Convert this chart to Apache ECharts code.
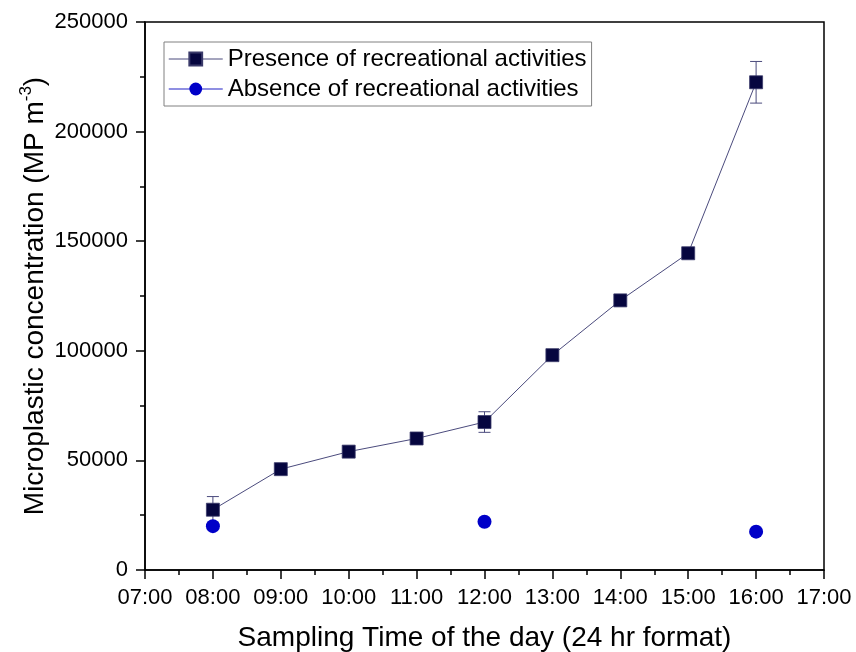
<!DOCTYPE html>
<html>
<head>
<meta charset="utf-8">
<script src="https://cdn.jsdelivr.net/npm/echarts@6/dist/echarts.min.js"></script>
<style>
html,body{margin:0;padding:0;background:#fff;}
#chart{width:856px;height:652px;}
</style>
</head>
<body>
<div id="chart"></div>
<script>
// Data (hours of day)
var presenceHours = [8, 9, 10, 11, 12, 13, 14, 15, 16];
var presenceValues = [27500, 46000, 54000, 60000, 67500, 98000, 123000, 144500, 222500];
var presenceErrors = [6000, 0, 0, 0, 4700, 0, 0, 0, 9500];
var absenceHours = [8, 12, 16];
var absenceValues = [20000, 22000, 17500];
var xTickLabels = ['07:00','08:00','09:00','10:00','11:00','12:00','13:00','14:00','15:00','16:00','17:00'];
var seriesNames = ['Presence of recreational activities', 'Absence of recreational activities'];

var FONT = '"Liberation Sans", Arial, sans-serif';
var chart = echarts.init(document.getElementById('chart'), null, {renderer: 'canvas'});

var presenceData = presenceHours.map(function (h, i) { return [h, presenceValues[i]]; });
var absenceData = absenceHours.map(function (h, i) { return [h, absenceValues[i]]; });
var errData = presenceHours.map(function (h, i) {
  return [h, presenceValues[i] - presenceErrors[i], presenceValues[i] + presenceErrors[i]];
}).filter(function (d, i) { return presenceErrors[i] > 0; });

var option = {
  animation: false,
  backgroundColor: '#fff',
  grid: { left: 145, right: 32, top: 22, bottom: 82, containLabel: false, outerBoundsMode: 'none', show: true, borderColor: '#000', borderWidth: 1.5, backgroundColor: 'transparent' },
  legend: {
    orient: 'vertical',
    left: 164, top: 42,
    padding: [5, 5, 5, 4],
    itemGap: 6,
    itemWidth: 54, itemHeight: 16,
    borderColor: '#808080', borderWidth: 1,
    textStyle: { fontFamily: FONT, fontSize: 24, color: '#000' },
    data: [
      { name: seriesNames[0], itemStyle: { color: '#06063f' }, lineStyle: { color: '#4b4b7d', width: 1 } },
      { name: seriesNames[1], itemStyle: { color: '#0000c8' }, lineStyle: { color: '#6a6ad8', width: 1.5, opacity: 1 } }
    ]
  },
  xAxis: {
    type: 'value', min: 7, max: 17, interval: 1,
    name: 'Sampling Time of the day (24 hr format)',
    nameLocation: 'middle', nameGap: 54, nameMoveOverlap: false,
    nameTextStyle: { fontFamily: FONT, fontSize: 28, color: '#000' },
    axisLine: { lineStyle: { color: '#000', width: 1.5 } },
    axisTick: { show: true, length: 9, lineStyle: { color: '#000', width: 1.5 } },
    minorTick: { show: true, splitNumber: 2, length: 5, lineStyle: { color: '#000', width: 1.5 } },
    splitLine: { show: false },
    axisLabel: {
      fontFamily: FONT, fontSize: 22, color: '#000', margin: 17,
      formatter: function (v) { return xTickLabels[Math.round(v) - 7]; }
    }
  },
  yAxis: {
    type: 'value', min: 0, max: 250000, interval: 50000,
    name: 'Microplastic concentration (MP m{sup|-3}{n|)}',
    nameLocation: 'middle', nameGap: 93, nameRotate: 90, nameMoveOverlap: false,
    nameTextStyle: {
      fontFamily: FONT, fontSize: 28, color: '#000', lineHeight: 34,
      rich: {
        sup: { fontFamily: FONT, fontSize: 17, color: '#000', verticalAlign: 'top', lineHeight: 34 },
        n: { fontFamily: FONT, fontSize: 28, color: '#000', lineHeight: 34 }
      }
    },
    axisLine: { show: true, lineStyle: { color: '#000', width: 1.5 } },
    axisTick: { show: true, length: 9, lineStyle: { color: '#000', width: 1.5 } },
    minorTick: { show: true, splitNumber: 2, length: 5, lineStyle: { color: '#000', width: 1.5 } },
    splitLine: { show: false },
    axisLabel: { fontFamily: FONT, fontSize: 22, color: '#000', margin: 17, formatter: function (v) { return String(v); } }
  },
  series: [
    {
      type: 'custom',
      name: 'err',
      z: 2,
      silent: true,
      renderItem: function (params, api) {
        var x = api.value(0);
        var lo = api.coord([x, api.value(1)]);
        var hi = api.coord([x, api.value(2)]);
        var hw = 6;
        var st = { stroke: '#4b4b7d', lineWidth: 1 };
        return {
          type: 'group',
          children: [
            { type: 'line', shape: { x1: lo[0], y1: lo[1], x2: hi[0], y2: hi[1] }, style: st },
            { type: 'line', shape: { x1: hi[0] - hw, y1: hi[1], x2: hi[0] + hw, y2: hi[1] }, style: st },
            { type: 'line', shape: { x1: lo[0] - hw, y1: lo[1], x2: lo[0] + hw, y2: lo[1] }, style: st }
          ]
        };
      },
      encode: { x: 0, y: [1, 2] },
      data: errData
    },
    {
      name: seriesNames[0],
      type: 'line',
      z: 3,
      data: presenceData,
      symbol: 'rect',
      symbolSize: 13,
      lineStyle: { color: '#4b4b7d', width: 1 },
      itemStyle: { color: '#06063f', borderColor: '#3a3a6a', borderWidth: 0.8 }
    },
    {
      name: seriesNames[1],
      type: 'line',
      z: 4,
      data: absenceData,
      symbol: 'circle',
      symbolSize: 14,
      lineStyle: { color: '#6a6ad8', width: 1, opacity: 0 },
      itemStyle: { color: '#0000c8', borderWidth: 0 }
    }
  ]
};
chart.setOption(option);
</script>
</body>
</html>
